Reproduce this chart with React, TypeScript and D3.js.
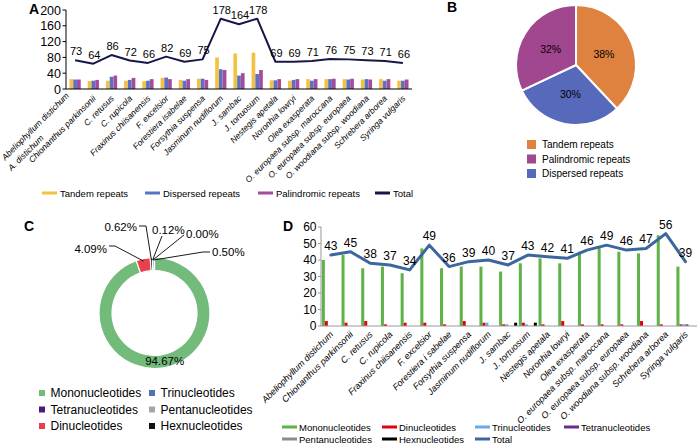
import React from 'react';
import * as d3 from 'd3';

const FONT = '"Liberation Sans", Arial, Helvetica, sans-serif';

// ---- Panel A: repeat counts per chloroplast genome
const speciesA = [
  'Abeliophyllum distichum|A. distichum', 'Chionanthus parkinsonii', 'C. retusus', 'C. rupicola',
  'Fraxinus chiisanensis', 'F. excelsior', 'Forestiera isabelae', 'Forsythia suspensa',
  'Jasminum nudiflorum', 'J. sambac', 'J. tortuosum', 'Nestegis apetala', 'Noronhia lowryi',
  'Olea exasperata', 'O. europaea subsp. maroccana', 'O. europaea subsp. europaea',
  'O. woodiana subsp. woodiana', 'Schrebera arborea', 'Syringa vulgaris',
];
const tandemRepeats = [25, 20, 21, 21, 20, 28, 23, 26, 80, 90, 92, 22, 21, 25, 25, 25, 24, 25, 21];
const dispersedRepeats = [24, 21, 31, 23, 21, 29, 21, 26, 50, 34, 38, 22, 23, 21, 25, 24, 25, 21, 21];
const palindromicRepeats = [24, 23, 34, 28, 25, 25, 25, 23, 48, 40, 48, 25, 25, 25, 26, 26, 24, 25, 24];
const totalRepeats = [73, 64, 86, 72, 66, 82, 69, 75, 178, 164, 178, 69, 69, 71, 76, 75, 73, 71, 66];
const ticksA = [0, 40, 80, 120, 160, 200];

// ---- Panel B: share of repeat types
const repeatTypes = ['Tandem repeats', 'Dispersed repeats', 'Palindromic repeats'];
const repeatShares = [38, 30, 32];
const repeatLegend = ['Tandem repeats', 'Palindromic repeats', 'Dispersed repeats'];

// ---- Panel C: share of SSR types (ring order, clockwise from top)
const ssrTypes = ['Mononucleotides', 'Dinucleotides', 'Hexnucleotides', 'Pentanucleotides', 'Tetranucleotides', 'Trinucleotides'];
const ssrShares = [94.67, 4.09, 0.62, 0.12, 0.0, 0.5];
const ssrLegend = ['Mononucleotides', 'Trinucleotides', 'Tetranucleotides', 'Pentanucleotides', 'Dinucleotides', 'Hexnucleotides'];

// ---- Panel D: SSR counts per genome
const speciesD = [
  'Abeliophyllum distichum', 'Chionanthus parkinsonii', 'C. retusus', 'C. rupicola',
  'Fraxinus chiisanensis', 'F. excelsior', 'Forestiera i sabelae', 'Forsythia suspensa',
  'Jasminum nudiflorum', 'J. sambac', 'J. tortuosum', 'Nestegis apetala', 'Noronhia lowryi',
  'Olea exasperata', 'O. europaea subsp. maroccana', 'O. europaea subsp. europaea',
  'O. woodiana subsp. woodiana', 'Schrebera arborea', 'Syringa vulgaris',
];
const mono = [40, 43, 35, 36, 32, 47, 35, 36, 36, 33, 38, 41, 38, 45, 48, 45, 44, 55, 36];
const di = [3, 2, 3, 1, 2, 2, 1, 3, 2, 1, 2, 1, 3, 1, 1, 1, 3, 1, 1];
const tri = [0, 0, 0, 0, 0, 0, 0, 0, 2, 1, 1, 0, 0, 0, 0, 0, 0, 0, 1];
const tetra = [0, 0, 0, 0, 0, 0, 0, 0, 0, 0, 0, 0, 0, 0, 0, 0, 0, 0, 1];
const penta = [0, 0, 0, 0, 0, 0, 0, 0, 0, 0, 0, 0, 0, 0, 0, 0, 0, 0, 0];
const hexa = [0, 0, 0, 0, 0, 0, 0, 0, 0, 2, 2, 0, 0, 0, 0, 0, 0, 0, 0];
const totalSsr = [43, 45, 38, 37, 34, 49, 36, 39, 40, 37, 43, 42, 41, 46, 49, 46, 47, 56, 39];
const ticksD = [0, 10, 20, 30, 40, 50, 60];

const App: React.FC = () => {
  // ---------- A
  const xA = d3.scaleBand<string>().domain(speciesA).range([66, 412]);
  const yA = d3.scaleLinear().domain([0, 200]).range([89, 10]);
  const seriesA = [
    { name: 'Tandem repeats', values: tandemRepeats, color: '#f5c142' },
    { name: 'Dispersed repeats', values: dispersedRepeats, color: '#5a72c4' },
    { name: 'Palindromic repeats', values: palindromicRepeats, color: '#a64a9c' },
  ];
  const innerA = d3.scaleBand<string>()
    .domain(seriesA.map(s => s.name))
    .range([0, xA.bandwidth()])
    .paddingInner(0.02)
    .paddingOuter(0.93);
  const cxA = (i: number) => (xA(speciesA[i]) as number) + xA.bandwidth() / 2;
  const lineA = d3.line<number>().x((_, i) => cxA(i)).y(d => yA(d));
  const legendA = [
    { name: 'Tandem repeats', color: '#f5c142', x: 42 },
    { name: 'Dispersed repeats', color: '#5a72c4', x: 145 },
    { name: 'Palindromic repeats', color: '#a64a9c', x: 258 },
    { name: 'Total', color: '#16164c', x: 375 },
  ];

  // ---------- B
  const colorB: Record<string, string> = {
    'Tandem repeats': '#e0823f',
    'Dispersed repeats': '#5669ba',
    'Palindromic repeats': '#a0478f',
  };
  const pieB = d3.pie<number>().sort(null).value(d => d)(repeatShares);
  const arcB = d3.arc<d3.PieArcDatum<number>>().innerRadius(0).outerRadius(60);
  const cB = [576, 65];

  // ---------- C
  const colorC: Record<string, string> = {
    Mononucleotides: '#72bb7b',
    Dinucleotides: '#e8414b',
    Trinucleotides: '#4f74b2',
    Tetranucleotides: '#4a1b7d',
    Pentanucleotides: '#a6a6a6',
    Hexnucleotides: '#111111',
  };
  const pieC = d3.pie<number>().sort(null).value(d => d)(ssrShares);
  const arcC = d3.arc<d3.PieArcDatum<number>>().innerRadius(42.5).outerRadius(55.5);
  const cC = [154.5, 313];
  const edgePoint = (d: d3.PieArcDatum<number>, r: number) => {
    const a = (d.startAngle + d.endAngle) / 2;
    return [cC[0] + r * Math.sin(a), cC[1] - r * Math.cos(a)];
  };
  // label placement for the thin slices (leader lines)
  const leaders: Record<string, { tx: number; ty: number; anchor: string; path: number[][] }> = {
    Dinucleotides: { tx: 107, ty: 253, anchor: 'end', path: [[109, 246], [115, 246]] },
    Hexnucleotides: { tx: 137, ty: 231, anchor: 'end', path: [[139, 226], [146, 226]] },
    Pentanucleotides: { tx: 152, ty: 234, anchor: 'start', path: [[162, 236]] },
    Tetranucleotides: { tx: 186, ty: 238, anchor: 'start', path: [[184, 235]] },
    Trinucleotides: { tx: 212, ty: 256, anchor: 'start', path: [[210, 252], [203, 252]] },
  };

  // ---------- D
  const xD = d3.scaleBand<string>().domain(speciesD).range([321, 695.3]);
  const yD = d3.scaleLinear().domain([0, 60]).range([326, 227]);
  const seriesD = [
    { name: 'Mononucleotides', values: mono, color: '#5fb246' },
    { name: 'Dinucleotides', values: di, color: '#e3000f' },
    { name: 'Trinucleotides', values: tri, color: '#6aaae8' },
    { name: 'Tetranucleotides', values: tetra, color: '#6b2c91' },
    { name: 'Pentanucleotides', values: penta, color: '#8c8c8c' },
    { name: 'Hexnucleotides', values: hexa, color: '#000000' },
  ];
  const innerD = d3.scaleBand<string>()
    .domain(seriesD.map(s => s.name))
    .range([0, xD.bandwidth()])
    .paddingOuter(0.28);
  const cxD = (i: number) => (xD(speciesD[i]) as number) + xD.bandwidth() / 2;
  const lineD = d3.line<number>().x((_, i) => cxD(i)).y(d => yD(d));
  const legendD = [
    { name: 'Mononucleotides', color: '#5fb246', x: 282, y: 427 },
    { name: 'Dinucleotides', color: '#e3000f', x: 382, y: 427 },
    { name: 'Trinucleotides', color: '#6aaae8', x: 475, y: 427 },
    { name: 'Tetranucleotides', color: '#6b2c91', x: 564, y: 427 },
    { name: 'Pentanucleotides', color: '#8c8c8c', x: 282, y: 439 },
    { name: 'Hexnucleotides', color: '#000000', x: 382, y: 439 },
    { name: 'Total', color: '#3b679e', x: 475, y: 439 },
  ];

  return (
    <svg width={700} height={443} style={{ position: 'absolute', left: 0, top: 0, background: '#fff' }} fontFamily={FONT}>
      {/* ================= A ================= */}
      <text x={29} y={14} fontSize={14} fontWeight="bold">A</text>
      {seriesA.map(s => (
        <g key={s.name}>
          {s.values.map((v, i) => (
            <rect key={i}
              x={(xA(speciesA[i]) as number) + (innerA(s.name) as number)}
              y={yA(v)} width={innerA.bandwidth()} height={yA(0) - yA(v)} fill={s.color} />
          ))}
        </g>
      ))}
      <line x1={66} x2={66} y1={yA(0)} y2={yA(200)} stroke="#000" />
      <line x1={66} x2={412} y1={yA(0)} y2={yA(0)} stroke="#000" />
      {ticksA.map(t => (
        <g key={t}>
          <line x1={62.5} x2={66} y1={yA(t)} y2={yA(t)} stroke="#000" />
          <text x={61} y={yA(t)} dy="0.36em" fontSize={12.5} textAnchor="end">{t}</text>
        </g>
      ))}
      <path d={lineA(totalRepeats) || ''} fill="none" stroke="#16164c" strokeWidth={2} strokeLinejoin="round" />
      {totalRepeats.map((v, i) => (
        <text key={i} x={cxA(i) + 1} y={yA(v) - 5} fontSize={11} textAnchor="middle">{v}</text>
      ))}
      {speciesA.map((name, i) => {
        const lines = name.split('|');
        return (
          <text key={name} transform={`translate(${cxA(i) + 3},99) rotate(-45)`} fontSize={8.5}
            fontStyle="italic" textAnchor="end">
            {lines.length === 1 ? lines[0] : (
              <>
                <tspan x={-4} y={-8}>{lines[0]}</tspan>
                <tspan x={-52} y={4}>{lines[1]}</tspan>
              </>
            )}
          </text>
        );
      })}
      {legendA.map(l => (
        <g key={l.name}>
          <rect x={l.x} y={191.5} width={15} height={3} fill={l.color} />
          <text x={l.x + 18} y={196.5} fontSize={9.5}>{l.name}</text>
        </g>
      ))}

      {/* ================= B ================= */}
      <text x={447} y={12} fontSize={14} fontWeight="bold">B</text>
      <g transform={`translate(${cB[0]},${cB[1]})`}>
        {pieB.map((d, i) => (
          <path key={i} d={arcB(d) || ''} fill={colorB[repeatTypes[i]]} stroke="#fff" strokeWidth={2} />
        ))}
        {pieB.map((d, i) => {
          const [x, y] = arcB.centroid(d);
          return <text key={i} x={x} y={y} dy="0.35em" fontSize={10.5} textAnchor="middle">{repeatShares[i]}%</text>;
        })}
      </g>
      {repeatLegend.map((name, i) => (
        <g key={name}>
          <rect x={527} y={140 + i * 14.5} width={9} height={9} fill={colorB[name]} />
          <text x={542} y={148 + i * 14.5} fontSize={10}>{name}</text>
        </g>
      ))}

      {/* ================= C ================= */}
      <text x={24} y={231} fontSize={14} fontWeight="bold">C</text>
      <g transform={`translate(${cC[0]},${cC[1]})`}>
        {pieC.map((d, i) => (
          <path key={i} d={arcC(d) || ''} fill={colorC[ssrTypes[i]]} stroke="#fff" strokeWidth={1.2} />
        ))}
        {(() => {
          const [x, y] = arcC.centroid(pieC[0]);
          return <text x={x + 2} y={y} dy="0.35em" fontSize={11.5} textAnchor="middle">{ssrShares[0].toFixed(2)}%</text>;
        })()}
      </g>
      {pieC.map((d, i) => {
        const l = leaders[ssrTypes[i]];
        if (!l) return null;
        const pts = [...l.path, edgePoint(d, 53)];
        return (
          <g key={i}>
            <path d={d3.line()(pts as [number, number][]) || ''} fill="none" stroke="#000" strokeWidth={0.9} />
            <text x={l.tx} y={l.ty} fontSize={11.5} textAnchor={l.anchor}>{ssrShares[i].toFixed(2)}%</text>
          </g>
        );
      })}
      {ssrLegend.map((name, i) => {
        const col = i % 2;
        const row = Math.floor(i / 2);
        const x = col === 0 ? 39 : 149;
        const y = 393 + row * 16.5;
        return (
          <g key={name}>
            <rect x={x} y={y - 3} width={6} height={6} fill={colorC[name]} />
            <text x={x + 11.5} y={y + 4} fontSize={12}>{name}</text>
          </g>
        );
      })}

      {/* ================= D ================= */}
      <text x={283} y={231} fontSize={14} fontWeight="bold">D</text>
      {seriesD.map(s => (
        <g key={s.name}>
          {s.values.map((v, i) => (
            <rect key={i}
              x={(xD(speciesD[i]) as number) + (innerD(s.name) as number)}
              y={yD(v)} width={innerD.bandwidth()} height={yD(0) - yD(v)} fill={s.color} />
          ))}
        </g>
      ))}
      <line x1={321} x2={321} y1={yD(0)} y2={yD(60)} stroke="#999" />
      <line x1={321} x2={697} y1={yD(0)} y2={yD(0)} stroke="#999" />
      {ticksD.map(t => (
        <g key={t}>
          <line x1={318} x2={321} y1={yD(t)} y2={yD(t)} stroke="#999" />
          <text x={316.5} y={yD(t)} dy="0.36em" fontSize={12} textAnchor="end">{t}</text>
        </g>
      ))}
      <path d={lineD(totalSsr) || ''} fill="none" stroke="#3b679e" strokeWidth={3} strokeLinejoin="round" strokeLinecap="round" />
      {totalSsr.map((v, i) => (
        <text key={i} x={cxD(i)} y={yD(v) - 5} fontSize={12} textAnchor="middle">{v}</text>
      ))}
      {speciesD.map((name, i) => (
        <text key={name} transform={`translate(${cxD(i) + 3},335) rotate(-45)`} fontSize={9}
          fontStyle="italic" textAnchor="end">{name}</text>
      ))}
      {legendD.map(l => (
        <g key={l.name}>
          <rect x={l.x} y={l.y - 1.5} width={15} height={3} fill={l.color} />
          <text x={l.x + 17} y={l.y + 3.5} fontSize={9.5}>{l.name}</text>
        </g>
      ))}
    </svg>
  );
};

export default App;
